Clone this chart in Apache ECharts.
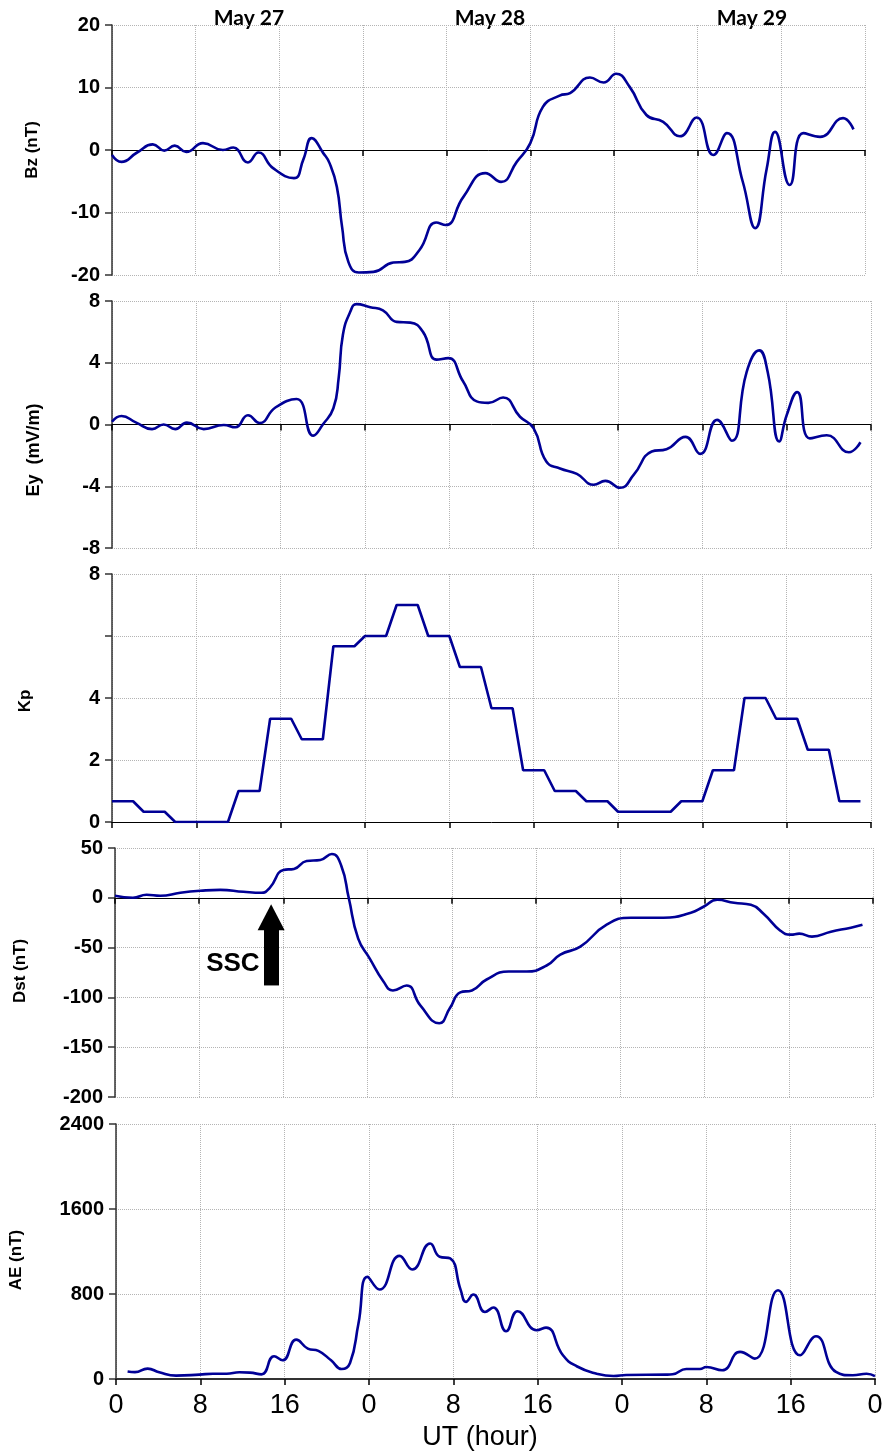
<!DOCTYPE html>
<html>
<head>
<meta charset="utf-8">
<script src="https://cdn.jsdelivr.net/npm/echarts@6/dist/echarts.min.js"></script>
<style>
  html, body { margin: 0; padding: 0; background: #fff; }
  #chart { width: 887px; height: 1456px; }
</style>
</head>
<body>
<div id="chart"></div>
<script>
// Hours are counted from 00 UT on May 27 (0 … 72).
const dayLabels = ['May 27', 'May 28', 'May 29'];

// IMF Bz (nT)
const bzHours  = [0, 0.9, 2.4, 3.9, 5.0, 6.0, 7.1, 8.7, 10.6, 11.6, 13.0, 14.0, 15.4, 17.4, 18.3, 19.1, 20.2, 20.8, 21.5, 22.0, 22.6, 23.6, 25.0, 26.9, 28.0, 29.4, 31.0, 31.9, 33.6, 35.7, 37.2, 38.7, 40.0, 41.2, 42.8, 43.8, 45.7, 47.0, 48.2, 49.5, 51.1, 52.7, 54.3, 55.9, 57.5, 58.8, 60.3, 61.5, 62.6, 63.4, 64.8, 66.1, 67.7, 69.9, 70.9];
const bzValues = [-0.8, -1.9, -0.4, 0.9, -0.1, 0.7, -0.3, 1.1, 0, 0.4, -2.0, -0.4, -2.9, -4.5, -1.5, 1.9, -0.5, -2.1, -5.9, -12.3, -17.9, -19.6, -19.5, -18.0, -17.9, -16.0, -11.6, -12.0, -7.5, -3.7, -5.1, -1.9, 1.1, 6.9, 8.7, 9.1, 11.6, 10.8, 12.2, 10.1, 5.6, 4.5, 2.2, 5.2, -0.8, 2.7, -5.0, -12.5, -3.0, 2.9, -5.6, 2.7, 2.1, 5.1, 3.3];

// Interplanetary electric field Ey (mV/m)
const eyHours  = [0, 0.9, 2.3, 3.8, 4.9, 6.0, 7.1, 8.7, 10.6, 11.7, 12.9, 14.0, 15.5, 17.5, 19.1, 20.0, 21.0, 21.5, 21.9, 22.6, 23.2, 24.5, 25.7, 27.0, 28.3, 29.5, 30.8, 31.9, 33.3, 34.6, 35.7, 37.1, 38.7, 40.0, 41.2, 42.5, 44.1, 45.7, 46.8, 48.2, 49.5, 51.2, 52.6, 54.4, 55.8, 57.4, 58.8, 60.2, 61.4, 62.2, 63.3, 64.0, 65.0, 66.2, 67.8, 69.9, 71.0];
const eyValues = [0.18, 0.55, 0.12, -0.3, 0, -0.3, 0.12, -0.3, -0.03, -0.18, 0.6, 0.1, 1.1, 1.65, -0.72, 0, 1.05, 3.0, 5.8, 7.3, 7.8, 7.6, 7.4, 6.65, 6.6, 6.0, 4.2, 4.3, 2.8, 1.5, 1.4, 1.75, 0.5, -0.25, -2.4, -2.85, -3.2, -3.9, -3.65, -4.1, -3.25, -1.75, -1.6, -0.8, -1.9, 0.3, -1.05, 3.4, 4.8, 3.4, -1.1, 0.6, 2.1, -0.9, -0.7, -1.8, -1.15];

// Kp, one value per 3-hour interval
const kpValues = [0.67, 0.33, 0, 0, 1.0, 3.33, 2.67, 5.67, 6.0, 7.0, 6.0, 5.0, 3.67, 1.67, 1.0, 0.67, 0.33, 0.33, 0.67, 1.67, 4.0, 3.33, 2.33, 0.67];

// Dst (nT)
const dstHours  = [0, 1.7, 3.0, 4.3, 6.2, 8.1, 10.0, 12.2, 13.9, 14.7, 16.0, 17.0, 18.2, 19.5, 20.6, 21.5, 22.2, 23.1, 24.2, 25.5, 26.4, 27.7, 29.0, 30.8, 31.8, 32.8, 33.9, 35.3, 37.4, 39.1, 41.0, 42.3, 44.2, 46.7, 49.0, 52.1, 54.7, 55.9, 57.2, 58.8, 60.4, 61.6, 63.2, 64.2, 65.0, 66.2, 68.0, 69.9, 71.0];
const dstValues = [2, 0, 3, 2, 5, 7, 8, 6, 5, 10, 28, 29, 37, 38, 44, 32, 0, -41, -61, -84, -93, -88, -108, -126, -111, -95, -93, -82, -74, -74, -68, -57, -49, -27, -20, -20, -15, -9, -2, -5, -7, -16, -33, -37, -36, -39, -34, -30, -27];

// AE (nT)
const aeHours  = [1.1, 1.8, 3.0, 4.1, 5.7, 7.9, 9.2, 10.5, 11.7, 12.7, 13.8, 15.0, 15.8, 17.1, 18.2, 19.2, 20.4, 21.4, 22.2, 23.0, 23.85, 25.0, 26.9, 28.1, 29.8, 30.7, 31.7, 32.7, 33.2, 33.9, 35.0, 35.8, 37.0, 38.1, 39.9, 40.8, 42.4, 43.7, 45.6, 47.2, 48.4, 52.2, 52.8, 54.1, 55.4, 56.0, 57.5, 59.2, 60.6, 62.8, 64.9, 66.4, 68.3, 69.9, 71.2, 72.0];
const aeValues = [70, 65, 98, 63, 32, 41, 50, 50, 63, 60, 44, 214, 176, 371, 286, 264, 176, 94, 151, 522, 961, 842, 1159, 1031, 1276, 1150, 1135, 836, 726, 795, 631, 673, 450, 638, 459, 484, 223, 120, 50, 28, 38, 41, 44, 94, 94, 113, 82, 255, 192, 836, 223, 402, 66, 35, 50, 28];

// SSC marker: time (h), shaft foot, shaft top and arrow-head centre (nT)
const sscHour = 14.83;
const sscFoot = -88;
const sscShaftTop = -26;
const sscHead = -19.5;
const sscTextAt = [11.2, -66];

function pairs(xs, ys) { return xs.map((x, i) => [x, ys[i]]); }

// Each 3-hour Kp value is held for two hours, then ramps to the next one.
function kpSteps(vals) {
  const out = [];
  vals.forEach((v, k) => { out.push([3 * k, v]); out.push([3 * k + 2, v]); });
  return out;
}

const LINE = '#000096';
const GRID_LINE = { show: true, lineStyle: { color: '#b4b4b4', type: 'dotted', width: 1 } };
const TICK_FONT = { fontFamily: 'Liberation Sans, Arial, sans-serif', fontWeight: 'bold', fontSize: 20, color: '#000' };

const grids = [
  { left: 112, top: 25,   width: 753, height: 250 },
  { left: 112, top: 301,  width: 759, height: 247 },
  { left: 112, top: 574,  width: 759, height: 248 },
  { left: 115, top: 848,  width: 758, height: 249 },
  { left: 116, top: 1124, width: 759, height: 255 }
].map(g => Object.assign({ outerBoundsMode: 'none', containLabel: false }, g));

const yRanges = [
  { min: -20, max: 20, interval: 10 },
  { min: -8, max: 8, interval: 4 },
  { min: 0, max: 8, interval: 2 },
  { min: -200, max: 50, interval: 50 },
  { min: 0, max: 2400, interval: 800 }
];

const xAxes = grids.map((g, i) => {
  const last = i === grids.length - 1;
  return {
    type: 'value', gridIndex: i, min: 0, max: 72, interval: 8,
    axisLine: { show: true, onZero: true, lineStyle: { color: last ? '#333' : '#000', width: last ? 2 : 1 } },
    axisTick: { show: true, inside: false, length: 6, lineStyle: { color: '#000', width: 1.5 } },
    axisLabel: {
      show: last, margin: 13,
      fontFamily: 'Liberation Sans, Arial, sans-serif', fontSize: 27, color: '#000',
      formatter: v => String(v % 24)
    },
    splitLine: GRID_LINE
  };
});

const yAxes = yRanges.map((r, i) => ({
  type: 'value', gridIndex: i, min: r.min, max: r.max, interval: r.interval,
  axisLine: { show: true, onZero: false, lineStyle: { color: '#333', width: 1.5 } },
  axisTick: { show: true, inside: false, length: 7, lineStyle: { color: '#333', width: 1.5 } },
  axisLabel: Object.assign({ margin: 12, formatter: v => (i === 2 && v === 6) ? '' : String(v) }, TICK_FONT),
  splitLine: GRID_LINE
}));

function lineSeries(i, data, smooth) {
  return {
    type: 'line', xAxisIndex: i, yAxisIndex: i, data: data,
    smooth: smooth, showSymbol: false, symbol: 'none',
    lineStyle: { color: LINE, width: 2.6 },
    itemStyle: { color: LINE },
    animation: false, silent: true
  };
}

const dstSeries = lineSeries(3, pairs(dstHours, dstValues), 0.5);
// SSC arrow shaft
dstSeries.markLine = {
  silent: true, animation: false,
  symbol: ['none', 'none'],
  label: { show: false },
  lineStyle: { color: '#000', width: 15, type: 'solid', cap: 'butt' },
  emphasis: { disabled: true },
  data: [[{ coord: [sscHour, sscFoot] }, { coord: [sscHour, sscShaftTop] }]]
};
// SSC arrow head and caption
dstSeries.markPoint = {
  silent: true, animation: false,
  data: [
    {
      coord: [sscHour, sscHead], symbol: 'triangle', symbolSize: [27, 26],
      itemStyle: { color: '#000' }, label: { show: false }
    },
    {
      coord: sscTextAt, symbol: 'circle', symbolSize: 1,
      itemStyle: { color: 'rgba(0,0,0,0)' },
      label: { show: true, position: 'inside', formatter: 'SSC', color: '#000',
               fontFamily: 'Liberation Sans, Arial, sans-serif', fontWeight: 'bold', fontSize: 26 }
    }
  ]
};

const series = [
  lineSeries(0, pairs(bzHours, bzValues), 0.5),
  lineSeries(1, pairs(eyHours, eyValues), 0.5),
  lineSeries(2, kpSteps(kpValues), false),
  dstSeries,
  lineSeries(4, pairs(aeHours, aeValues), 0.5)
];

function vText(text, x, y, size) {
  return {
    type: 'text', x: x, y: y, rotation: Math.PI / 2, silent: true,
    style: {
      text: text, fill: '#000',
      font: 'bold ' + size + 'px "Liberation Sans", Arial, sans-serif',
      align: 'center', verticalAlign: 'middle',
      textAlign: 'center', textVerticalAlign: 'middle'
    }
  };
}
function hText(text, x, y, font) {
  return {
    type: 'text', x: x, y: y, silent: true,
    style: {
      text: text, fill: '#000', font: font,
      align: 'center', verticalAlign: 'middle',
      textAlign: 'center', textVerticalAlign: 'middle'
    }
  };
}

const dayFont = 'bold 21px Lato, "Liberation Sans", sans-serif';
const graphic = [
  hText(dayLabels[0], 249, 18, dayFont),
  hText(dayLabels[1], 490, 18, dayFont),
  hText(dayLabels[2], 752, 18, dayFont),
  vText('Bz (nT)', 32, 150, 17),
  vText('Ey  (mV/m)', 34, 450, 18),
  vText('Kp', 25, 701, 17),
  vText('Dst (nT)', 20, 971, 17),
  vText('AE (nT)', 16, 1260, 17),
  hText('UT (hour)', 480, 1438, '27px "Liberation Sans", Arial, sans-serif')
];

const chart = echarts.init(document.getElementById('chart'), null, { renderer: 'canvas' });
chart.setOption({
  animation: false,
  backgroundColor: '#fff',
  grid: grids,
  xAxis: xAxes,
  yAxis: yAxes,
  series: series,
  graphic: graphic
});
</script>
</body>
</html>
